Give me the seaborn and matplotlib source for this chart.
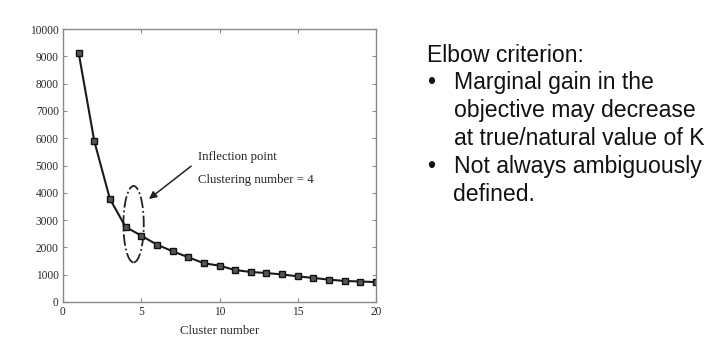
import matplotlib
matplotlib.use("Agg")
import matplotlib.pyplot as plt
from matplotlib.patches import Ellipse
import pandas as pd
import seaborn as sns

# Within-cluster error for each candidate number of clusters
clusters = list(range(1, 21))
error = [9130, 5890, 3770, 2750, 2430, 2100, 1860, 1640, 1420, 1330,
         1170, 1100, 1060, 1010, 940, 880, 820, 770, 750, 730]

x_ticks = [0, 5, 10, 15, 20]
y_ticks = [0, 1000, 2000, 3000, 4000, 5000, 6000, 7000, 8000, 9000, 10000]

note_lines = ["Inflection point", "Clustering number = 4"]
bullet_title = "Elbow criterion:"
bullet_lines = [
    ("\u2022", "Marginal gain in the"),
    ("", "objective may decrease"),
    ("", "at true/natural value of K"),
    ("\u2022", "Not always ambiguously"),
    ("", "defined."),
]

sns.set_style("ticks")
plt.rcParams["font.family"] = ["Liberation Serif", "DejaVu Serif"]

W, H = 718, 344
fig = plt.figure(figsize=(W / 100, H / 100), dpi=100)
ax = fig.add_axes([63 / W, 1 - 302 / H, (376 - 63) / W, (302 - 29) / H])

df = pd.DataFrame({"Cluster number": clusters, "Error": error})
sns.lineplot(data=df, x="Cluster number", y="Error", ax=ax, color="#1a1a1a",
             linewidth=1.5, marker="s", markersize=4.4,
             markerfacecolor="#555555", markeredgecolor="#111111",
             markeredgewidth=1.0)

ax.set_xlim(0, 20)
ax.set_ylim(0, 10000)
ax.set_xticks(x_ticks)
ax.set_yticks(y_ticks)
ax.set_xticklabels([str(v) for v in x_ticks])
ax.set_yticklabels([str(v) for v in y_ticks])
ax.tick_params(direction="in", length=3, width=0.8, colors="#888888",
               labelcolor="#2a2a2a", labelsize=8.3, top=True, right=True,
               pad=3)
for side in ["left", "right", "top", "bottom"]:
    ax.spines[side].set_visible(True)
    ax.spines[side].set_color("#8a8a8a")
    ax.spines[side].set_linewidth(1.0)
ax.set_xlabel("Cluster number", fontsize=9.2, color="#2a2a2a", labelpad=5)
ax.set_ylabel("")

# Dash-dot ring around the elbow and its annotation
ring = Ellipse((4.51, 2850), width=1.3, height=2800, fill=False,
               edgecolor="#222222", linewidth=1.3, linestyle="-.")
ax.add_patch(ring)
ax.annotate("", xy=(5.35, 3710), xytext=(8.33, 5040),
            arrowprops=dict(arrowstyle="-|>", color="#222222", lw=1.1,
                            mutation_scale=11))
ax.text(8.61, 5320, note_lines[0], fontsize=9.2, color="#222222",
        ha="left", va="center")
ax.text(8.61, 4470, note_lines[1], fontsize=9.2, color="#222222",
        ha="left", va="center")

# Side notes
sans = ["Liberation Sans", "DejaVu Sans"]
fig.text(427 / W, 1 - 61.7 / H, bullet_title, family=sans, fontsize=16.6,
         color="#111111", ha="left", va="baseline")
baselines = [89.5, 117.2, 145.0, 172.8, 200.6]
for (mark, line), yb in zip(bullet_lines, baselines):
    if mark:
        fig.text(427 / W, 1 - yb / H, mark, family=sans, fontsize=16.6,
                 color="#111111", ha="left", va="baseline")
    fig.text(453.5 / W, 1 - yb / H, line, family=sans, fontsize=16.6,
             color="#111111", ha="left", va="baseline")

fig.savefig("out.png", dpi=100)
